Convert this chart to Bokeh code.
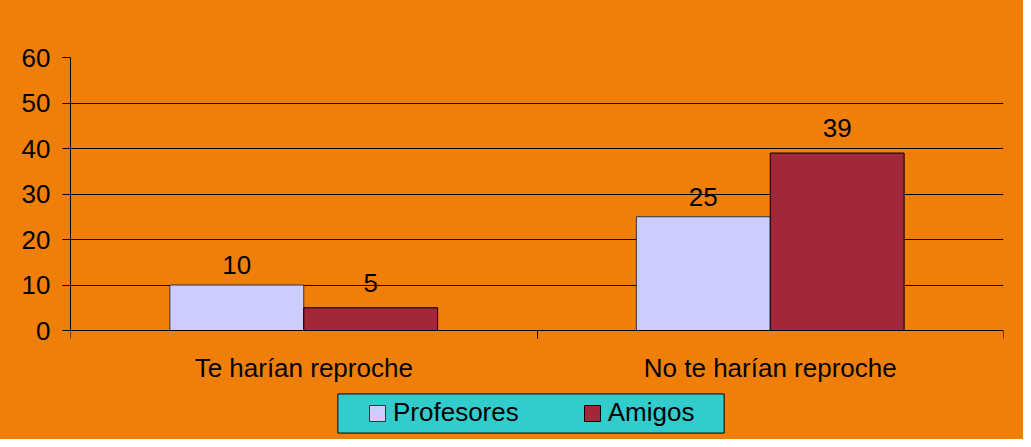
from bokeh.plotting import figure
from bokeh.models import Range1d, FixedTicker, Legend, LegendItem, Label, ColumnDataSource
from bokeh.transform import dodge
from bokeh.core.properties import value
from bokeh.embed import file_html
from bokeh.resources import INLINE

categories = ["Te harían reproche", "No te harían reproche"]
series_names = ["Profesores", "Amigos"]
profesores = [10, 25]
amigos = [5, 39]
y_ticks = [0, 10, 20, 30, 40, 50, 60]

ORANGE = "#F07F09"
FONT = "Liberation Sans"
BAR_W = 0.287

W, H = 1023, 439
TOP, LEFT, RIGHT = 57, 70, 20
PX_PER_UNIT = 273 / 60.0
y_min = y_ticks[-1] - (H - TOP) / PX_PER_UNIT  # frame extends below 0 to host labels & legend

xpos = [i + 0.5 for i in range(len(categories))]
src = ColumnDataSource(dict(
    x=xpos, prof=profesores, ami=amigos,
    prof_t=[str(v) for v in profesores], ami_t=[str(v) for v in amigos],
))

p = figure(width=W, height=H, output_backend="svg", toolbar_location=None,
           x_range=Range1d(0, len(categories)), y_range=Range1d(y_min, y_ticks[-1]),
           min_border_left=LEFT, min_border_right=RIGHT, min_border_top=TOP, min_border_bottom=0)
p.background_fill_color = ORANGE
p.border_fill_color = ORANGE
p.outline_line_color = None
p.styles = {"background-color": ORANGE}

# grid
p.xgrid.grid_line_color = None
p.ygrid.grid_line_color = "#000000"
p.ygrid.grid_line_width = 1
p.ygrid.ticker = FixedTicker(ticks=y_ticks)

# y axis
ya = p.yaxis[0]
ya.ticker = FixedTicker(ticks=y_ticks)
ya.bounds = (y_ticks[0], y_ticks[-1])
ya.major_tick_out = 8
ya.major_tick_in = 0
ya.minor_tick_out = 0
ya.minor_tick_in = 0
ya.axis_line_color = "#000000"
ya.major_tick_line_color = "#000000"
ya.major_label_text_font = FONT
ya.major_label_text_font_size = "26px"
ya.major_label_text_color = "#000000"
ya.major_label_standoff = 12

# x axis, fixed at y = 0
xa = p.xaxis[0]
xa.fixed_location = 0
xa.ticker = FixedTicker(ticks=xpos, minor_ticks=list(range(len(categories) + 1)))
xa.major_label_overrides = {x: c for x, c in zip(xpos, categories)}
xa.major_tick_out = 0
xa.major_tick_in = 0
xa.minor_tick_out = 8
xa.minor_tick_in = 0
xa.minor_tick_line_color = "#000000"
xa.axis_line_color = "#000000"
xa.major_label_text_font = FONT
xa.major_label_text_font_size = "26px"
xa.major_label_text_color = "#000000"
xa.major_label_standoff = 14

r1 = p.vbar(x=dodge("x", -BAR_W / 2), top="prof", width=BAR_W, source=src,
            fill_color="#CCCCFF", line_color="#333344", line_width=1)
r2 = p.vbar(x=dodge("x", BAR_W / 2), top="ami", width=BAR_W, source=src,
            fill_color="#A0283A", line_color="#000000", line_width=1)

for col, txt, off, yoff in (("prof", "prof_t", -BAR_W / 2, -20), ("ami", "ami_t", BAR_W / 2, -25)):
    p.text(x=dodge("x", off), y=col, text=txt, source=src,
           text_font=value(FONT), text_font_size="26px", text_color="#000000",
           text_align="center", text_baseline="alphabetic", y_offset=yoff)

# legend box
box = Label(x=460.5, y=26, x_units="screen", y_units="screen", text=" ",
            text_font_size="1px", text_align="center", text_baseline="middle",
            background_fill_color="#33CCCC", border_line_color="#000000",
            border_line_width=1, padding=dict(x=193, y=19))
p.add_layout(box)

legend = Legend(items=[LegendItem(label=series_names[0], renderers=[r1]),
                       LegendItem(label=series_names[1], renderers=[r2])],
                orientation="horizontal", location=(297, 11),
                background_fill_alpha=0, border_line_alpha=0, padding=0,
                glyph_width=20, glyph_height=20, label_standoff=6, spacing=63,
                label_text_font=FONT, label_text_font_size="26px",
                label_text_color="#000000")
p.add_layout(legend)

html = file_html(p, INLINE)
html = html.replace("<body>", '<body style="background:#dcdcdc">', 1)
open("out.html", "w").write(html)
